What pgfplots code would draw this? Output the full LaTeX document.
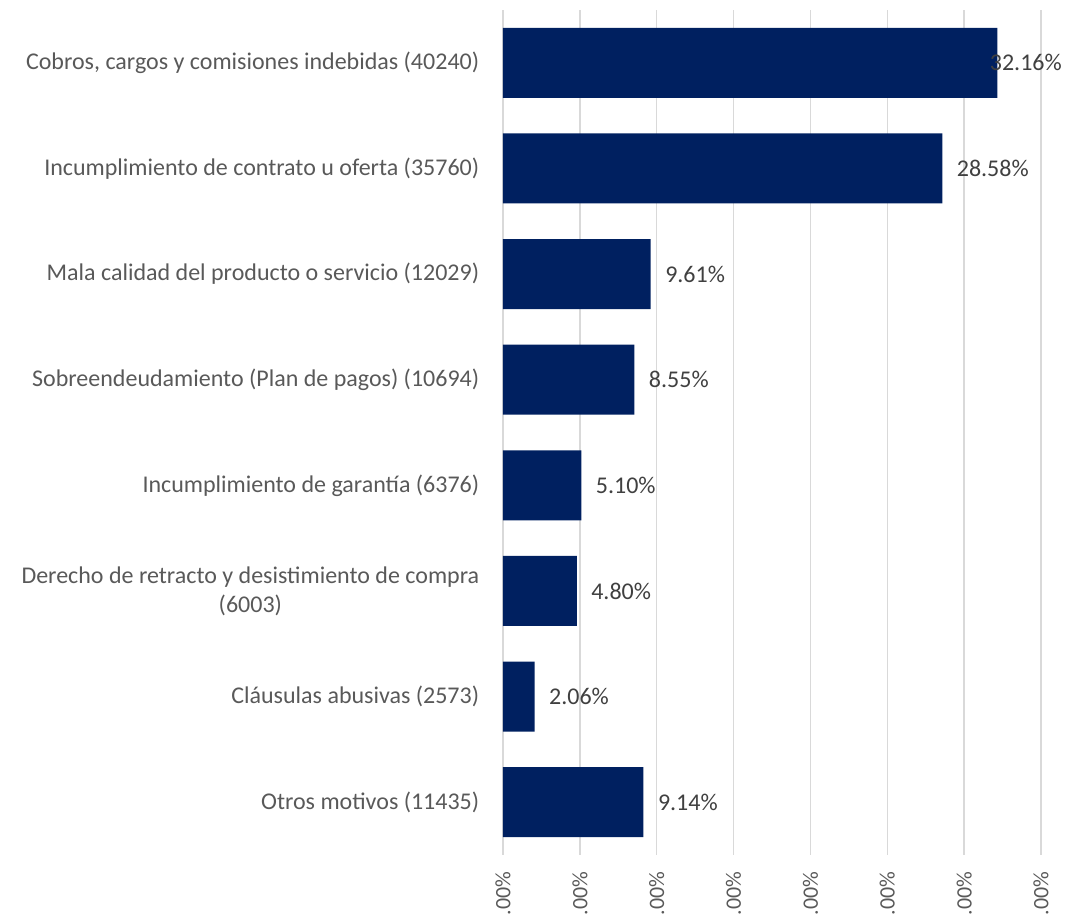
\documentclass[border=0pt]{standalone}
\usepackage{pgfplots}
\pgfplotsset{compat=1.18}
\usepackage{fontspec}
\setmainfont{Carlito}
\definecolor{barblue}{HTML}{002060}
\definecolor{labgray}{HTML}{595959}
\definecolor{datgray}{HTML}{404040}
\definecolor{gridgray}{HTML}{D9D9D9}
\begin{document}
\begin{tikzpicture}[x=1pt,y=1pt]
\begin{axis}[
  at={(503pt,64pt)}, anchor=south west,
  scale only axis, width=538pt, height=845pt,
  xbar, bar width=70pt,
  xmin=0, xmax=35, ymin=-0.5, ymax=7.5,
  y dir=reverse,
  xtick={0,5,...,35},
  xticklabel={.00\%},
  ytick={0,...,7},
  yticklabels={
    {Cobros, cargos y comisiones indebidas (40240)},
    {Incumplimiento de contrato u oferta (35760)},
    {Mala calidad del producto o servicio (12029)},
    {Sobreendeudamiento (Plan de pagos) (10694)},
    {Incumplimiento de garantía (6376)},
    {Derecho de retracto y desistimiento de compra\\(6003)},
    {Cláusulas abusivas (2573)},
    {Otros motivos (11435)}},
  yticklabel style={align=center, font=\fontsize{24}{29}\selectfont, text=labgray, xshift=-16pt},
  xticklabel style={rotate=90, anchor=east, font=\fontsize{22}{26}\selectfont, text=labgray, xshift=-13pt},
  xmajorgrids, major grid style={gridgray, line width=1.5pt},
  axis line style={draw=none},
  tick style={draw=none},
  point meta=x,
  /pgf/number format/assume math mode=true,
  nodes near coords={\pgfmathprintnumber[fixed,fixed zerofill,precision=2]{\pgfplotspointmeta}\%},
  nodes near coords align={horizontal},
  every node near coord/.append style={font=\fontsize{24}{29}\selectfont, text=datgray, anchor=west, xshift=11pt},
  coordinate style/.condition={x>30}{xshift=-22pt},
]
\addplot[fill=barblue, draw=none] coordinates {
  (32.16,0) (28.58,1) (9.61,2) (8.55,3) (5.10,4) (4.80,5) (2.06,6) (9.14,7)
};
\end{axis}
\pgfresetboundingbox
\useasboundingbox (0,0) rectangle (1066pt,919pt);
\end{tikzpicture}
\end{document}
